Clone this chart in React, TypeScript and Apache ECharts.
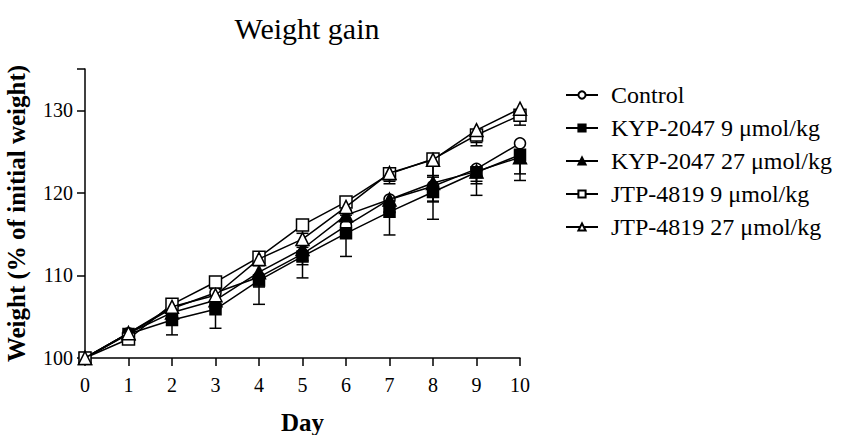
import React, { useEffect, useRef } from "react";
import * as echarts from "echarts";

const days = [0, 1, 2, 3, 4, 5, 6, 7, 8, 9, 10];
const seriesNames = [
  "Control",
  "KYP-2047 9 μmol/kg",
  "KYP-2047 27 μmol/kg",
  "JTP-4819 9 μmol/kg",
  "JTP-4819 27 μmol/kg",
];
const controlMean = [100, 103.0, 106.0, 107.9, 109.8, 112.6, 116.0, 119.2, 120.8, 122.9, 126.0];
const kyp9Mean = [100, 102.9, 104.6, 105.9, 109.4, 112.3, 115.1, 117.7, 120.1, 122.5, 124.6];
const kyp27Mean = [100, 103.0, 105.5, 107.0, 110.4, 113.2, 117.3, 119.2, 121.2, 122.6, 124.3];
const jtp9Mean = [100, 102.3, 106.5, 109.2, 112.2, 116.1, 118.9, 122.3, 124.1, 127.0, 129.4];
const jtp27Mean = [100, 103.0, 106.2, 107.6, 112.0, 114.4, 118.3, 122.4, 124.0, 127.6, 130.2];
const controlErr = [0, 0.4, 0.8, 1.0, 1.2, 1.3, 1.5, 1.6, 1.9, 1.5, 1.5];
const kyp9Err = [0, 0.3, 1.8, 2.3, 2.9, 2.6, 2.8, 2.8, 3.3, 2.8, 3.1];
const kyp27Err = [0, 0.4, 0.8, 1.0, 1.0, 1.4, 1.0, 1.5, 2.2, 1.5, 2.0];
const jtp9Err = [0, 0.3, 0.6, 0.8, 1.0, 1.0, 1.0, 1.2, 2.2, 1.3, 1.2];
const jtp27Err = [0, 0.3, 0.6, 0.8, 0.8, 1.0, 1.0, 1.0, 1.9, 1.5, 1.5];
const yTicks = [100, 110, 120, 130];

const FONT = "Liberation Serif";

export default function App() {
  const ref = useRef<HTMLDivElement>(null);
  useEffect(() => {
    if (!ref.current) return;
    document.body.style.margin = "0";
    const chart = echarts.init(ref.current, undefined, { renderer: "svg" });
    const means = [controlMean, kyp9Mean, kyp27Mean, jtp9Mean, jtp27Mean];
    const errs = [controlErr, kyp9Err, kyp27Err, jtp9Err, jtp27Err];
    const symbols = ["circle", "rect", "triangle", "rect", "triangle"];
    const fills = ["#fff", "#000", "#000", "#fff", "#fff"];
    const sizes = [11, 11, 13, 12, 13];

    const errData: number[][] = [];
    means.forEach((m, si) => {
      days.forEach((d, i) => {
        if (errs[si][i] > 0) errData.push([d, m[i], errs[si][i]]);
      });
    });

    const lineSeries = means.map((m, si) => ({
      type: "line",
      name: seriesNames[si],
      data: days.map((d, i) => [d, m[i]]),
      symbol: symbols[si],
      symbolSize: sizes[si],
      showAllSymbol: true,
      z: 3 + si,
      lineStyle: { color: "#000", width: 1.5 },
      itemStyle: { color: fills[si], borderColor: "#000", borderWidth: 1.5 },
    }));

    chart.setOption({
      animation: false,
      title: {
        text: "Weight gain",
        left: 302,
        top: 8,
        textAlign: "center",
        textStyle: { fontFamily: FONT, fontSize: 30, fontWeight: "normal", color: "#000" },
      },
      legend: {
        orient: "vertical",
        left: 560,
        top: 78,
        itemWidth: 32,
        itemHeight: 9,
        itemGap: 9,
        data: seriesNames,
        textStyle: { fontFamily: FONT, fontSize: 24, color: "#000", padding: [0, 0, 0, 8] },
      },
      grid: { left: 85, right: 328, top: 69, bottom: 77, containLabel: false, outerBoundsMode: "none" },
      xAxis: {
        type: "value",
        min: 0,
        max: 10,
        interval: 1,
        name: "Day",
        nameLocation: "middle",
        nameGap: 52,
        nameTextStyle: { fontFamily: FONT, fontSize: 25, fontWeight: "bold", color: "#000" },
        axisLine: { lineStyle: { color: "#000", width: 1.5 } },
        axisTick: { length: 8, lineStyle: { color: "#000", width: 1.5 } },
        axisLabel: { fontFamily: FONT, fontSize: 20, color: "#000", margin: 17 },
        splitLine: { show: false },
      },
      yAxis: {
        type: "value",
        min: 100,
        max: 135,
        interval: 10,
        name: "Weight (% of initial weight)",
        nameLocation: "middle",
        nameGap: 56,
        nameTextStyle: { fontFamily: FONT, fontSize: 25, fontWeight: "bold", color: "#000" },
        axisLine: { show: true, lineStyle: { color: "#000", width: 1.5 } },
        axisTick: { show: true, length: 8, lineStyle: { color: "#000", width: 1.5 } },
        axisLabel: {
          fontFamily: FONT,
          fontSize: 20,
          color: "#000",
          margin: 12,
          formatter: (v: number) => (yTicks.includes(v) ? String(v) : ""),
        },
        splitLine: { show: false },
      },
      series: [
        {
          type: "custom",
          name: "errors",
          z: 2,
          data: errData,
          renderItem: (params: any, api: any) => {
            const x = api.value(0);
            const y = api.value(1);
            const e = api.value(2);
            const p = api.coord([x, y]);
            const q = api.coord([x, y - e]);
            return {
              type: "group",
              children: [
                { type: "line", shape: { x1: p[0], y1: p[1], x2: q[0], y2: q[1] }, style: { stroke: "#000", lineWidth: 1.5 } },
                { type: "line", shape: { x1: q[0] - 6, y1: q[1], x2: q[0] + 6, y2: q[1] }, style: { stroke: "#000", lineWidth: 1.5 } },
              ],
            };
          },
        },
        ...lineSeries,
      ],
    });
    return () => chart.dispose();
  }, []);
  return <div ref={ref} style={{ width: 848, height: 435 }} />;
}
